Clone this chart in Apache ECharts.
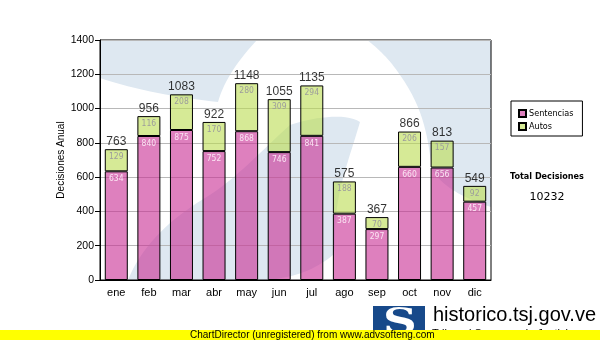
<!DOCTYPE html>
<html>
<head>
<meta charset="utf-8">
<script src="https://cdn.jsdelivr.net/npm/echarts@6/dist/echarts.min.js"></script>
<style>
html, body { margin: 0; padding: 0; background: #fff; }
#chart { width: 600px; height: 340px; }
</style>
</head>
<body>
<div id="chart"></div>
<script>
// Monthly decisions: sentences and orders (autos)
const months = ['ene', 'feb', 'mar', 'abr', 'may', 'jun', 'jul', 'ago', 'sep', 'oct', 'nov', 'dic'];
const sentencias = [634, 840, 875, 752, 868, 746, 841, 387, 297, 660, 656, 457];
const autos = [129, 116, 208, 170, 280, 309, 294, 188, 70, 206, 157, 92];
const yMin = 0, yMax = 1400, yStep = 200;

const totals = months.map((m, i) => sentencias[i] + autos[i]);
const grandTotal = totals.reduce((a, b) => a + b, 0);

const plot = { left: 100, top: 40, width: 391, height: 240 };

const chart = echarts.init(document.getElementById('chart'), null, { renderer: 'canvas' });

// Turn a small M/L/C/Z outline into polygon points (cubic segments sampled)
function outline(d) {
  const tok = d.match(/[MLCZ]|-?\d+(\.\d+)?/g);
  const pts = [];
  let i = 0, cur = [0, 0];
  const num = () => parseFloat(tok[i++]);
  while (i < tok.length) {
    const c = tok[i++];
    if (c === 'M' || c === 'L') { cur = [num(), num()]; pts.push(cur); }
    else if (c === 'C') {
      const p1 = [num(), num()], p2 = [num(), num()], p3 = [num(), num()];
      const p0 = cur;
      for (let k = 1; k <= 16; k++) {
        const t = k / 16, u = 1 - t;
        pts.push([
          u*u*u*p0[0] + 3*u*u*t*p1[0] + 3*u*t*t*p2[0] + t*t*t*p3[0],
          u*u*u*p0[1] + 3*u*u*t*p1[1] + 3*u*t*t*p2[1] + t*t*t*p3[1]
        ]);
      }
      cur = p3;
    }
  }
  return pts;
}

// Pale-blue "S" emblem watermark behind the bars
const emblem = [
  'M100,40 L257,40 C240,58 224,80 218,102 C180,98 135,90 100,78 Z',
  'M367,40 L491,40 L491,207 C470,200 445,190 432,170 C428,140 425,110 400,75 C390,60 378,48 367,40 Z',
  'M290,125 C310,118 345,112 360,122 C352,150 340,180 336,215 C334,235 336,248 333,255 C315,270 295,277 268,280 L128,280 C140,250 165,222 205,198 C235,180 262,150 290,125 Z'
];
const watermark = emblem.map(d => ({
  type: 'polygon', z: -19, silent: true,
  shape: { points: outline(d) },
  style: { fill: '#dee8f1' }
}));

// Site banner and footer strip
const footer = [
  { type: 'text', z: 50, silent: true,
    style: { x: 432, y: 328, text: 'Tribunal Supremo de Justicia', fill: '#000',
      font: '11px "Liberation Sans", Arial, sans-serif', textAlign: 'left', textVerticalAlign: 'top' } },
  { type: 'rect', z: 50, silent: true,
    shape: { x: 373, y: 306, width: 52, height: 34 },
    style: { fill: '#17498a' } },
  { type: 'text', z: 51, silent: true, scaleX: 1.3, originX: 400, originY: 324,
    style: { x: 400, y: 324, text: 'S', fill: '#ffffff',
      font: 'bold 36px "DejaVu Serif", serif', textAlign: 'center', textVerticalAlign: 'middle' } },
  { type: 'text', z: 50, silent: true,
    style: { x: 433, y: 315, text: 'historico.tsj.gov.ve', fill: '#000',
      font: '20px "Liberation Sans", Arial, sans-serif', textAlign: 'left', textVerticalAlign: 'middle' } },
  { type: 'rect', z: 60, silent: true,
    shape: { x: 0, y: 330, width: 600, height: 10 },
    style: { fill: '#ffff00' } },
  { type: 'text', z: 61, silent: true,
    style: { x: 190, y: 335, text: 'ChartDirector (unregistered) from www.advsofteng.com', fill: '#000',
      font: '10px "Liberation Sans", Arial, sans-serif', textAlign: 'left', textVerticalAlign: 'middle' } },
  // Grand total beside the legend
  { type: 'text', z: 10, silent: true,
    style: { x: 547, y: 177, text: 'Total Decisiones', fill: '#000',
      font: 'bold 9px "DejaVu Sans Condensed", "DejaVu Sans", sans-serif', textAlign: 'center', textVerticalAlign: 'middle' } },
  { type: 'text', z: 10, silent: true,
    style: { x: 547, y: 197, text: String(grandTotal), fill: '#000',
      font: '11px "DejaVu Sans", sans-serif', textAlign: 'center', textVerticalAlign: 'middle' } }
];

const option = {
  animation: false,
  backgroundColor: '#ffffff',
  graphic: { elements: watermark.concat(footer) },
  grid: {
    left: plot.left, top: plot.top, width: plot.width, height: plot.height,
    show: true, borderColor: '#000', borderWidth: 1, backgroundColor: 'transparent'
  },
  legend: {
    data: ['Sentencias', 'Autos'],
    orient: 'vertical',
    left: 511, top: 101,
    padding: [8, 9, 5, 7],
    itemWidth: 7, itemHeight: 7, itemGap: 4,
    icon: 'rect',
    backgroundColor: '#fff', borderColor: '#000', borderWidth: 1,
    textStyle: { fontFamily: '"DejaVu Sans Condensed", "DejaVu Sans", sans-serif', fontSize: 9, color: '#000', padding: [0, 0, 0, -2] }
  },
  xAxis: {
    type: 'category',
    data: months,
    axisLine: { lineStyle: { color: '#000', width: 1 } },
    axisTick: { alignWithLabel: true, length: 4, lineStyle: { color: '#000' } },
    axisLabel: { color: '#000', fontFamily: '"Liberation Sans", Arial, sans-serif', fontSize: 11, margin: 7 }
  },
  yAxis: {
    type: 'value',
    min: yMin, max: yMax, interval: yStep,
    name: 'Decisiones Anual',
    nameLocation: 'middle',
    nameRotate: 90,
    nameGap: 34,
    nameMoveOverlap: false,
    nameTextStyle: { color: '#000', fontFamily: '"Liberation Sans", Arial, sans-serif', fontSize: 10 },
    axisLine: { show: true, lineStyle: { color: '#000', width: 1 } },
    axisTick: { show: true, length: 5, lineStyle: { color: '#000' } },
    axisLabel: { color: '#000', fontFamily: '"Liberation Sans", Arial, sans-serif', fontSize: 10.5, margin: 6,
      formatter: v => String(v) },
    splitLine: { lineStyle: { color: '#b8b8b8', width: 1 } }
  },
  series: [
    {
      name: 'Sentencias', type: 'bar', stack: 'dec', barWidth: 23,
      data: sentencias,
      itemStyle: { color: 'rgba(200,43,147,0.6)', borderColor: '#000', borderWidth: 1 },
      label: { show: true, position: 'insideTop', distance: 3, color: '#fbe4f3',
        fontFamily: '"DejaVu Sans Condensed", "DejaVu Sans", sans-serif', fontSize: 8.5 }
    },
    {
      name: 'Autos', type: 'bar', stack: 'dec', barWidth: 23,
      data: autos,
      itemStyle: { color: 'rgba(187,220,80,0.6)', borderColor: '#000', borderWidth: 1 },
      label: { show: true, position: 'insideTop', distance: 3, color: '#9c9c9c',
        fontFamily: '"DejaVu Sans Condensed", "DejaVu Sans", sans-serif', fontSize: 8.5 }
    },
    {
      name: 'Total', type: 'scatter', silent: true,
      data: totals, symbolSize: 1,
      itemStyle: { color: 'rgba(0,0,0,0)' },
      label: { show: true, position: 'top', distance: 1, color: '#000',
        fontFamily: '"Liberation Sans", Arial, sans-serif', fontSize: 12 },
      z: 5
    }
  ]
};

chart.setOption(option);
</script>
</body>
</html>
